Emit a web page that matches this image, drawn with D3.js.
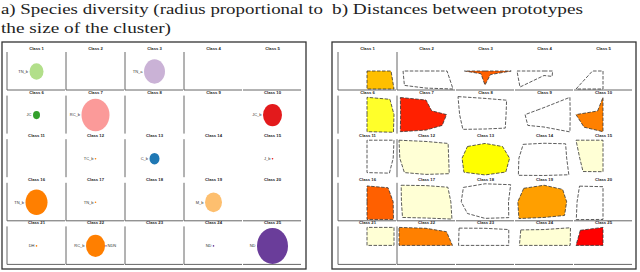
<!DOCTYPE html>
<html>
<head>
<meta charset="utf-8">
<script src="https://cdn.jsdelivr.net/npm/d3@7"></script>
<style>
body { margin: 0; background: #fff; }
svg { display: block; }
.title { font-family: "Liberation Serif", "DejaVu Serif", serif; font-size: 15.5px; fill: #222; }
</style>
</head>
<body>
<svg id="chart" width="640" height="272"></svg>
<script>
// species palette (ColorBrewer Paired order)
const species = ['A_b', 'C_b', 'TN_b', 'JC', 'RC_b', 'JC_b', 'M_b', 'DH', 'TN_a', 'ND', 'Y_b', 'B_b']

// clusters 1..25, row by row
const clusterSize = [14, 0, 21, 0, 0, 7, 28, 0, 0, 19, 0, 1, 10, 0, 1, 22, 1, 0, 17, 0, 1, 19, 0, 1, 31]
const clusterSpecies = ['TN_b', null, 'TN_a', null, null, 'JC', 'RC_b', null, null, 'JC_b',
  null, 'DH', 'C_b', null, 'JC_b', 'DH', 'DH', null, 'M_b', null, 'DH', 'DH', null, 'ND', 'ND']
const clusterLabel = ['TN_b', '', 'TN_a', '', '', 'JC', 'RC_b', '', '', 'JC_b',
  '', 'TC_b', 'C_b', '', 'J_b', 'TN_b', 'TN_b', '', 'M_b', '', 'DH', 'RC_b', '', 'ND', 'ND']
const secondSpecies = [{ cluster: 22, species: 'ND', label: 'NDN' }]

// closeness to the neighbour prototype, directions TL, T, TR, R, BR, B, BL, L
const protoDist = [
  [0, 0, 0, 0.89, 1.0, 1.0, 0, 0],
  [0, 0, 0, 0.78, 1.0, 0.95, 0.8, 0.85],
  [0, 0, 0, 0.97, 0.2, 0.78, 0.15, 0.76],
  [0, 0, 0, 0.32, 0.3, 0.25, 0.89, 1.0],
  [0, 0, 0, 0, 0, 1.0, 1.0, 0.39],
  [0, 0.96, 0.85, 1.0, 0.98, 0.95, 0, 0],
  [0.95, 0.81, 0.21, 0.76, 0.6, 0.86, 0.95, 0.94],
  [1.0, 0.9, 0.8, 0.78, 0.75, 0.8, 0.82, 0.94],
  [0.25, 0.39, 0.96, 0.97, 0.96, 0.69, 0.6, 0.7],
  [0.2, 0.96, 0, 0, 0, 0.95, 0.7, 1.0],
  [0, 1.0, 1.0, 0.97, 0.83, 0.8, 0, 0],
  [1.0, 0.93, 0.82, 0.84, 0.86, 0.9, 0.8, 0.97],
  [0.65, 0.82, 0.65, 0.91, 0.77, 0.93, 0.78, 0.85],
  [0.77, 0.83, 0.8, 0.84, 0.92, 0.96, 0.95, 0.93],
  [1.0, 1.0, 0, 0, 0, 0.75, 0.74, 0.86],
  [0, 0.88, 0.78, 0.97, 0.98, 0.98, 0, 0],
  [0.92, 0.9, 0.81, 0.92, 0.96, 0.9, 0.87, 0.91],
  [0.8, 1.0, 0.95, 0.87, 0.88, 0.92, 0.65, 0.88],
  [0.75, 0.92, 0.69, 0.84, 0.76, 0.87, 0.93, 0.97],
  [0.87, 0.84, 0, 0, 0, 0.98, 0.99, 0.96],
  [0, 1.0, 1.0, 1.0, 0, 0, 0, 0],
  [1.0, 0.95, 0.76, 0.98, 0, 0, 0, 1.0],
  [0.96, 0.95, 0.88, 0.88, 0, 0, 0, 0.98],
  [0.86, 0.88, 0.98, 0.97, 0, 0, 0, 0.91],
  [0.84, 1.0, 0, 0, 0, 0, 0, 1.0]
]

const titleA = ['a) Species diversity (radius proportional to', 'the size of the cluster)']
const titleB = 'b) Distances between prototypes'

const heat = ['#FFFFD5', '#FFFF80', '#FFFF2A', '#FFFF00', '#FFDF00', '#FFBF00',
  '#FF9F00', '#FF8000', '#FF6000', '#FF4000', '#FF2000', '#FF0000']

const svg = d3.select('#chart')

const N = 5
const CELL_W = 59
const CELL_H = 38
const dirs = [[-1, -1], [0, -1], [1, -1], [1, 0], [1, 1], [0, 1], [-1, 1], [-1, 0]]

const cells = d3.range(N * N).map(i => ({
	k: i + 1,
	row: Math.floor(i / N),
	col: i % N,
	size: clusterSize[i],
	species: clusterSpecies[i],
	label: clusterLabel[i],
	dist: protoDist[i]
}))

const rowY = d3.scaleLinear().domain([0, N - 1]).range([52, 226.4])
const speciesColor = d3.scaleOrdinal().domain(species).range(d3.schemePaired)
const sizeColor = d3.scaleQuantize().domain([0, d3.max(clusterSize)]).range(heat)
const rx = d3.scaleLinear().domain([0, d3.max(clusterSize)]).range([0, 15.5])
const ry = d3.scaleLinear().domain([0, d3.max(clusterSize)]).range([0, 18])

// only some of the cell spines survive in the picture
const bottomRows = [0, 3, 4]

function setupTitles() {
	const t = svg.append('g')

	t.append('text').attr('class', 'title').attr('x', 1).attr('y', 14)
		.attr('textLength', 322).attr('lengthAdjust', 'spacingAndGlyphs')
		.text(titleA[0])
	t.append('text').attr('class', 'title').attr('x', 1).attr('y', 33)
		.attr('textLength', 170).attr('lengthAdjust', 'spacingAndGlyphs')
		.text(titleA[1])
	t.append('text').attr('class', 'title').attr('x', 332).attr('y', 14)
		.attr('textLength', 251).attr('lengthAdjust', 'spacingAndGlyphs')
		.text(titleB)
}

function setupPanel(x0, frameX, spineCols) {
	const g = svg.append('g')
	const colX = d3.scaleLinear().domain([0, N]).range([x0, x0 + N * CELL_W])

	g.append('rect')
		.attr('x', frameX).attr('y', 42)
		.attr('width', 304).attr('height', 227)
		.attr('fill', 'none')
		.attr('stroke', '#333')
		.attr('stroke-width', 1.3)

	const cell = g.selectAll('.cell')
		.data(cells)
		.enter()
		.append('g')
		.attr('class', 'cell')
		.attr('transform', d => `translate(${colX(d.col)}, ${rowY(d.row)})`)

	cell.filter(d => spineCols.includes(d.col))
		.append('line')
		.attr('x1', 0).attr('x2', 0)
		.attr('y1', 0).attr('y2', CELL_H)
		.attr('stroke', '#666')

	cell.filter(d => bottomRows.includes(d.row))
		.append('line')
		.attr('x1', 0).attr('x2', CELL_W - 1)
		.attr('y1', CELL_H).attr('y2', CELL_H)
		.attr('stroke', '#666')

	cell.append('text')
		.attr('x', CELL_W / 2)
		.attr('y', -2)
		.attr('text-anchor', 'middle')
		.attr('font-family', '"Liberation Sans", Arial, sans-serif')
		.attr('font-weight', 'bold')
		.attr('font-size', 4.2)
		.attr('fill', '#222')
		.text(d => `Class ${d.k}`)

	return cell
}

function setupDiversity() {
	const cell = setupPanel(7, 2, [0, 1, 2, 3])
	const cx = CELL_W / 2
	const cy = CELL_H / 2 + 0.5
	const full = cell.filter(d => d.size > 0)

	secondSpecies.forEach(s => {
		const c = full.filter(d => d.k === s.cluster)
		c.append('line')
			.attr('x1', cx).attr('y1', cy)
			.attr('x2', d => cx + rx(d.size) + 2).attr('y2', cy)
			.attr('stroke', speciesColor(s.species))
			.attr('stroke-width', 0.8)
		c.append('text')
			.attr('x', d => cx + rx(d.size) + 2.5)
			.attr('y', cy + 1.4)
			.attr('font-family', '"Liberation Sans", Arial, sans-serif')
			.attr('font-size', 4)
			.attr('fill', '#333')
			.text(s.label)
	})

	full.append('ellipse')
		.attr('cx', cx).attr('cy', cy)
		.attr('rx', d => Math.max(rx(d.size), 0.8))
		.attr('ry', d => Math.max(ry(d.size), 0.8))
		.attr('fill', d => speciesColor(d.species))

	full.append('text')
		.attr('x', d => cx - rx(d.size) - 1.5)
		.attr('y', cy + 1.4)
		.attr('text-anchor', 'end')
		.attr('font-family', '"Liberation Sans", Arial, sans-serif')
		.attr('font-size', 4)
		.attr('fill', '#333')
		.text(d => d.label)
}

function setupDistances() {
	const cell = setupPanel(338, 332, [0, 1])
	const lx = d3.scaleLinear().domain([-1, 1]).range([2, 56])
	const ly = d3.scaleLinear().domain([-1, 1]).range([1, 37])
	const line = d3.line().curve(d3.curveLinearClosed)

	cell.append('path')
		.attr('d', d => line(dirs.map((dir, i) => [lx(dir[0] * d.dist[i]), ly(dir[1] * d.dist[i])])))
		.attr('fill', d => d.size > 0 ? sizeColor(d.size) : '#fff')
		.attr('stroke', '#333')
		.attr('stroke-width', 0.8)
		.attr('stroke-dasharray', '3.5,1.5')
}

setupTitles()
setupDiversity()
setupDistances()
</script>
</body>
</html>
